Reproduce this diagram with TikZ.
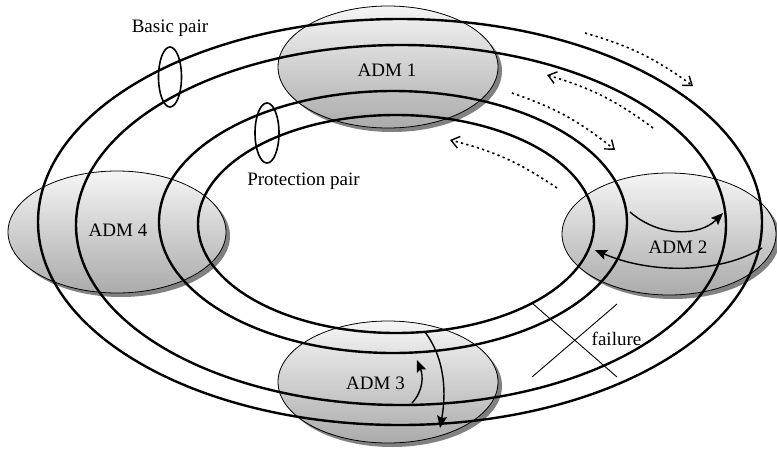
\documentclass[tikz,border=0pt]{standalone}
\usepackage{fontspec}
\setmainfont{Liberation Serif}
\usetikzlibrary{shapes.geometric,shadows,arrows.meta}
\begin{document}
\begin{tikzpicture}[x=1pt,y=-1pt,
  adm/.style={ellipse, draw=black, line width=0.8pt, minimum width=220pt,
    minimum height=122pt, inner sep=0pt, top color=white!96!black, bottom color=black!33,
    drop shadow={shadow xshift=4pt, shadow yshift=-4pt, fill=black!55, opacity=0.9}},
  ring/.style={line width=2.4pt},
  pair/.style={line width=1.6pt},
  lbl/.style={font=\fontsize{19}{22}\selectfont, inner sep=0pt, anchor=base},
  flow/.style={line width=1.6pt, dash pattern=on 2.2pt off 3.3pt,
    -{Straight Barb[length=8pt,width=12pt,line width=1.4pt]}},
  hop/.style={line width=1.4pt, -{Stealth[length=12pt,width=10pt,inset=2pt]}},
  cut/.style={line width=0.9pt}]
\useasboundingbox (0,0) rectangle (777,448);

% add-drop multiplexers
\node[adm] (adm1) at (388,67) {};
\node[adm, minimum width=214pt] (adm2) at (669,234) {};
\node[adm] (adm3) at (388,382) {};
\node[adm, minimum width=218pt] (adm4) at (117,232) {};

% the four fibre rings
\draw[ring] (400,222) ellipse [x radius=362pt, y radius=203pt];
\draw[ring] (401,225) ellipse [x radius=325pt, y radius=180pt];
\draw[ring] (393,222) ellipse [x radius=234pt, y radius=131pt];
\draw[ring] (396,224) ellipse [x radius=198pt, y radius=109pt];

% pair markers
\draw[pair] (170,77) ellipse [x radius=11.5pt, y radius=30pt];
\draw[pair] (267,133) ellipse [x radius=12pt, y radius=30pt];

% labels
\node[lbl] (tbasic) at (170,32) {Basic pair};
\node[lbl] (tprot) at (303.5,185) {Protection pair};
\node[lbl] (t1) at (387,76) {ADM 1};
\node[lbl] (t2) at (678,253) {ADM 2};
\node[lbl] (t3) at (375.5,389) {ADM 3};
\node[lbl] (t4) at (118,236) {ADM 4};
\node[lbl] (tfail) at (616.5,345) {failure};

% traffic directions
\coordinate (a1) at (585,33);  \coordinate (a2) at (693,86);
\coordinate (b1) at (653,128); \coordinate (b2) at (547,75);
\coordinate (c1) at (512,93);  \coordinate (c2) at (615,150);
\coordinate (d1) at (557,188); \coordinate (d2) at (450,140);
\draw[flow] (a1) to[bend left=10] (a2);
\draw[flow] (b1) to[bend right=10] (b2);
\draw[flow] (c1) to[bend left=10] (c2);
\draw[flow] (d1) to[bend right=10] (d2);

% loop-back at ADM 2
\coordinate (e1) at (630,212); \coordinate (e2) at (723,213);
\coordinate (f1) at (762,248); \coordinate (f2) at (595,250);
\draw[hop] (e1) .. controls (660,238) and (700,236) .. (e2);
\draw[hop] (f1) .. controls (720,274) and (650,274) .. (f2);

% loop-back at ADM 3
\coordinate (g1) at (412,403); \coordinate (g2) at (417,360);
\coordinate (h1) at (425,332); \coordinate (h2) at (440,428);
\draw[hop] (g1) .. controls (424,390) and (423,375) .. (g2);
\draw[hop] (h1) .. controls (446,360) and (446,395) .. (h2);

% failure cross
\coordinate (x1) at (532,303); \coordinate (x2) at (617,377);
\coordinate (y1) at (617,304); \coordinate (y2) at (532,377);
\draw[cut] (x1) -- (x2);
\draw[cut] (y1) -- (y2);
\end{tikzpicture}
\end{document}
